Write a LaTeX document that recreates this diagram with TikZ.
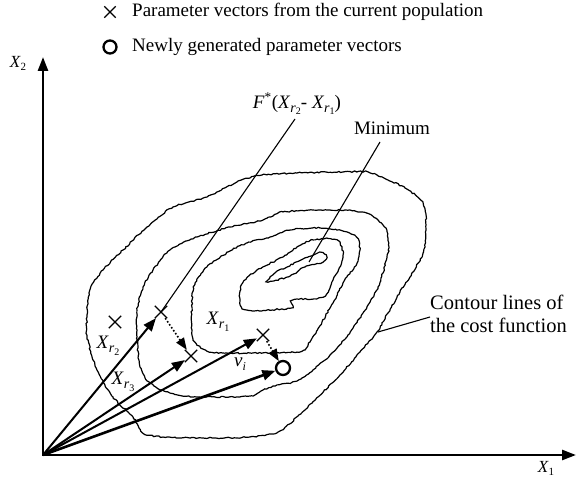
\documentclass[tikz,border=0pt]{standalone}
\usepackage{fontspec}
\setmainfont{Liberation Serif}
\usetikzlibrary{arrows.meta, shapes.misc, decorations.pathmorphing}

\newcommand{\xr}[1]{\textit{X}\raisebox{-0.45ex}{\fontsize{14}{14}\selectfont\textit{r}\raisebox{-0.4ex}{\fontsize{10}{10}\selectfont #1}}}

\begin{document}
\begin{tikzpicture}[x=1pt, y=-1pt,
    contour/.style={draw=black, line width=1.2pt, decorate,
                    decoration={random steps, segment length=2.2pt, amplitude=0.7pt}},
    axis/.style={line width=2.6pt, {Triangle[length=14pt,width=10pt]}-{Triangle[length=14pt,width=10pt]}},
    vec/.style={-{Triangle[length=13pt,width=10pt]}, line width=2pt},
    diffvec/.style={-{Triangle[length=12pt,width=9pt]}, line width=1.6pt, dotted},
    leader/.style={line width=1.1pt},
    xmark/.style={cross out, draw, line width=1.3pt, minimum size=11pt, inner sep=0pt},
    omark/.style={circle, draw, line width=2.3pt, minimum size=14pt, inner sep=0pt},
    lbl/.style={inner sep=0pt, font=\fontsize{19}{22}\selectfont}]
    \pgfmathsetseed{7}
    \useasboundingbox (0,0) rectangle (577,481);

    % Legend
    \node[xmark, minimum size=10pt] (legx) at (110,12) {};
    \node[lbl, anchor=west] (legxtext) at (132,12) {Parameter vectors from the current population};
    \node[omark, minimum size=13pt] (lego) at (110,47) {};
    \node[lbl, anchor=west] (legotext) at (132,47) {Newly generated parameter vectors};

    % Contour lines (outer to inner)
    \draw[contour] plot[smooth cycle, tension=0.5] coordinates {(87,337) (87,317) (90,290) (103,270)
        (123,250) (147,227) (173,207) (207,197) (237,182) (262,175) (297,173) (343,172) (368,172)
        (388,180) (405,188) (423,203) (426,230) (423,253) (413,272) (400,292) (388,313) (377,332)
        (360,352) (340,375) (318,397) (298,416) (278,432) (250,437) (203,438) (163,437) (143,433)
        (133,417) (113,397) (97,370)};
    \draw[contour] plot[smooth cycle, tension=0.5] coordinates {(137,310) (143,287) (153,270)
        (170,250) (197,237) (230,227) (263,220) (283,212) (330,210) (362,212) (378,220) (387,232)
        (388,253) (378,287) (363,313) (348,335) (330,355) (313,370) (297,381) (277,385) (263,390)
        (250,396) (197,397) (170,393) (150,383) (140,367) (137,337)};
    \draw[contour] plot[smooth cycle, tension=0.5] coordinates {(192,300) (195,283) (207,267)
        (230,251) (247,243) (270,237) (290,230) (320,228) (347,232) (357,238) (360,250) (357,263)
        (343,283) (333,303) (322,322) (310,342) (297,352) (223,353) (207,351) (195,342) (192,330)};
    \draw[contour] plot[smooth cycle, tension=0.5] coordinates {(240,300) (242,284) (257,270)
        (283,257) (297,247) (313,240) (337,240) (343,257) (333,280) (323,297) (293,300) (290,308)
        (247,310)};
    \draw[contour] plot[smooth cycle, tension=0.5] coordinates {(268,282) (275,273) (287,267)
        (303,259) (318,253) (326,255) (323,262) (305,267) (290,276)};

    % Axes
    \coordinate (O) at (43,455);
    \coordinate (ytip) at (43,57);
    \coordinate (xtip) at (576,455);
    \draw[axis] (ytip) -- (O) -- (xtip);
    \node[lbl, font=\fontsize{17}{17}\selectfont] (x2) at (18,63) {\textit{X}\raisebox{-0.4ex}{\fontsize{11}{11}\selectfont 2}};
    \node[lbl, font=\fontsize{17}{17}\selectfont] (x1) at (546,468) {\textit{X}\raisebox{-0.4ex}{\fontsize{11}{11}\selectfont 1}};

    % Parameter vectors
    \node[xmark] (other) at (115,322) {};
    \node[xmark] (r2) at (161,312) {};
    \node[xmark] (r3) at (191,356) {};
    \node[xmark] (r1) at (263,335) {};
    \node[omark] (vi) at (283,368) {};

    \draw[vec] (O) -- (r2);
    \draw[vec] (O) -- (r3);
    \draw[vec] (O) -- (r1);
    \draw[vec, line width=2.6pt] (O) -- (vi);
    \draw[diffvec] (r2) -- (r3);
    \draw[diffvec] (r1) -- (vi);

    \node[lbl] (lr2) at (108,346) {\xr{2}};
    \node[lbl] (lr3) at (123,382) {\xr{3}};
    \node[lbl] (lr1) at (218,322) {\xr{1}};
    \node[lbl] (lvi) at (240,364) {\textit{v}\raisebox{-0.45ex}{\fontsize{12}{12}\selectfont\textit{i}}};

    % Leader lines
    \node[lbl] (diff) at (297,104) {\textit{F}\textsuperscript{*}(\xr{2}- \xr{1})};
    \draw[leader] (295,119) -- (r2.center);
    \node[lbl] (minlbl) at (392,128) {Minimum};
    \coordinate (minpt) at (309,262);
    \draw[leader] (380,142) -- (minpt);
    \node[lbl, font=\fontsize{20.5}{22.5}\selectfont, align=left, anchor=west] (contlbl) at (430,314)
        {Contour lines of\\the cost function};
    \coordinate (contpt) at (378,332);
    \draw[leader] ([yshift=-3pt]contlbl.west) -- (contpt);
\end{tikzpicture}
\end{document}
